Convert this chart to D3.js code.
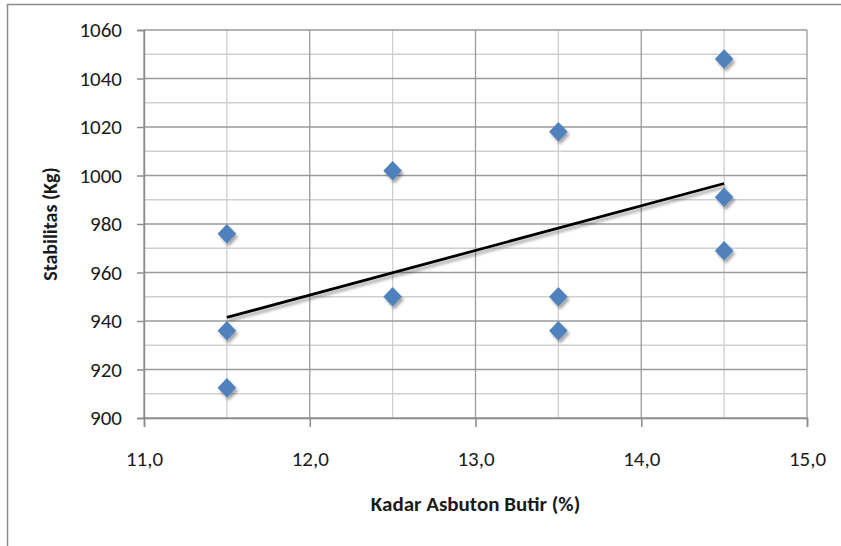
<!DOCTYPE html>
<html><head><meta charset="utf-8">
<script src="https://cdn.jsdelivr.net/npm/d3@7"></script>
<style>
html,body{margin:0;padding:0;background:#fff;}
svg{display:block;}
text{font-family:Carlito,Lato,"Open Sans",sans-serif;}
</style>
</head><body>
<svg id="chart" width="841" height="546"></svg>
<script>
// Data
const xValues = [11.5, 11.5, 11.5, 12.5, 12.5, 13.5, 13.5, 13.5, 14.5, 14.5, 14.5];
const yValues = [976, 936, 912.5, 1002, 950, 1018, 950, 936, 1048, 991, 969];
const trendX = [11.5, 14.5];
const trendY = [941.5, 996.7];
const xTicks = [11, 12, 13, 14, 15];
const yTicks = [900, 920, 940, 960, 980, 1000, 1020, 1040, 1060];
const xMinor = [11.5, 12.5, 13.5, 14.5];
const yMinor = [910, 930, 950, 970, 990, 1010, 1030, 1050];
const xTitle = "Kadar Asbuton Butir (%)";
const yTitle = "Stabilitas (Kg)";

const svg = d3.select("#chart");
const L = 144, R = 807, T = 30, B = 418;
const x = d3.scaleLinear().domain([11, 15]).range([L, R]);
const y = d3.scaleLinear().domain([900, 1060]).range([B, T]);

// defs: shadow
const defs = svg.append("defs");
const f = defs.append("filter").attr("id", "sh").attr("x", "-50%").attr("y", "-50%").attr("width", "200%").attr("height", "200%");
f.append("feGaussianBlur").attr("in", "SourceAlpha").attr("stdDeviation", 1.6).attr("result", "b");
f.append("feOffset").attr("in", "b").attr("dx", 2).attr("dy", 2.5).attr("result", "o");
f.append("feComponentTransfer").attr("in", "o").attr("result", "o2")
  .append("feFuncA").attr("type", "linear").attr("slope", 0.35);
const m = f.append("feMerge");
m.append("feMergeNode").attr("in", "o2");
m.append("feMergeNode").attr("in", "SourceGraphic");

// outer border
svg.append("path").attr("d", "M7.5,546 V4.5 H841").attr("fill", "none").attr("stroke", "#8c8c8c").attr("stroke-width", 1.5);

// minor grid
const g = svg.append("g");
g.selectAll(".ym").data(yMinor).join("line")
  .attr("x1", L).attr("x2", R).attr("y1", d => y(d)).attr("y2", d => y(d))
  .attr("stroke", "#cfcfcf").attr("stroke-width", 1.3);
g.selectAll(".xm").data(xMinor).join("line")
  .attr("y1", T).attr("y2", B).attr("x1", d => x(d)).attr("x2", d => x(d))
  .attr("stroke", "#cfcfcf").attr("stroke-width", 1.3);
// major grid
g.selectAll(".yM").data(yTicks).join("line")
  .attr("x1", L).attr("x2", R).attr("y1", d => y(d)).attr("y2", d => y(d))
  .attr("stroke", "#9a9a9a").attr("stroke-width", 1.3);
g.selectAll(".xM").data(xTicks).join("line")
  .attr("y1", T).attr("y2", B).attr("x1", d => x(d)).attr("x2", d => x(d))
  .attr("stroke", "#9a9a9a").attr("stroke-width", 1.3);

// axes
const yAxis = d3.axisLeft(y).tickValues(yTicks).tickSize(7).tickPadding(15).tickFormat(d3.format("d"));
const ya = svg.append("g").attr("transform", `translate(${L},0)`).call(yAxis);
ya.select(".domain").attr("stroke", "#8c8c8c").attr("stroke-width", 1.5);
ya.selectAll(".tick line").attr("stroke", "#8c8c8c").attr("stroke-width", 1.5);
ya.selectAll("text").attr("font-size", 21).attr("fill", "#1a1a1a").attr("font-family", "Carlito,Lato,sans-serif");

const xAxis = d3.axisBottom(x).tickValues(xTicks).tickSize(9).tickPadding(24).tickFormat(d => d3.format(".1f")(d).replace(".", ","));
const xa = svg.append("g").attr("transform", `translate(0,${B})`).call(xAxis);
xa.select(".domain").attr("stroke", "#8c8c8c").attr("stroke-width", 1.5);
xa.selectAll(".tick line").attr("stroke", "#8c8c8c").attr("stroke-width", 1.5);
xa.selectAll("text").attr("font-size", 21).attr("fill", "#1a1a1a").attr("font-family", "Carlito,Lato,sans-serif");

// trendline
svg.append("path")
  .attr("d", d3.line().x(d => x(d[0])).y(d => y(d[1]))(trendX.map((v, i) => [v, trendY[i]])))
  .attr("fill", "none").attr("stroke", "#000").attr("stroke-width", 2.8)
  .attr("filter", "url(#sh)");

// markers
const sym = d3.symbol().type(d3.symbolDiamond2).size(220);
svg.append("g").selectAll("path").data(xValues.map((v, i) => [v, yValues[i]])).join("path")
  .attr("d", sym)
  .attr("transform", d => `translate(${x(d[0])},${y(d[1])}) scale(1,1.05)`)
  .attr("fill", "#4f81bd")
  .attr("filter", "url(#sh)");

// titles
svg.append("text").attr("x", (L + R) / 2).attr("y", 511).attr("text-anchor", "middle")
  .attr("font-size", 21).attr("font-weight", "bold").attr("fill", "#1a1a1a").text(xTitle);
svg.append("text").attr("transform", `translate(57,${(T + B) / 2}) rotate(-90)`).attr("text-anchor", "middle")
  .attr("font-size", 20).attr("font-weight", "bold").attr("fill", "#1a1a1a").text(yTitle);
</script>
</body></html>
